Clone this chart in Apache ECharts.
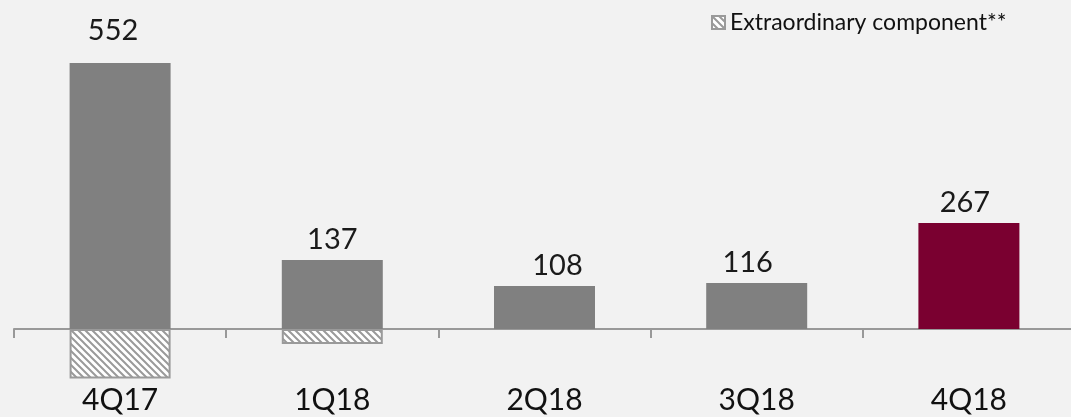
<!DOCTYPE html>
<html>
<head>
<meta charset="utf-8">
<script src="https://cdn.jsdelivr.net/npm/echarts@6/dist/echarts.min.js"></script>
<style>
html,body{margin:0;padding:0;background:#f2f2f2;}
#c{width:1071px;height:417px;}
</style>
</head>
<body>
<div id="c"></div>
<script>
// Data
const categories = ['4Q17', '1Q18', '2Q18', '3Q18', '4Q18'];
const reported = [552, 137, 108, 116, 267];          // printed labels
const barTotals = [670, 174, 108, 116, 267];          // height of the solid bar (incl. extraordinary)
const extraordinary = [125, 38, 0, 0, 0];             // hatched part below the axis
const legendName = 'Extraordinary component**';

// hatch pattern
function makeHatch() {
  const s = 7;
  const cv = document.createElement('canvas');
  cv.width = s; cv.height = s;
  const ctx = cv.getContext('2d');
  ctx.fillStyle = '#ffffff';
  ctx.fillRect(0, 0, s, s);
  ctx.strokeStyle = '#9a9a9a';
  ctx.lineWidth = 2;
  ctx.beginPath();
  ctx.moveTo(-2, -2); ctx.lineTo(s + 2, s + 2);
  ctx.moveTo(-2 - s, -2); ctx.lineTo(2, s + 2);
  ctx.moveTo(s - 2, -2); ctx.lineTo(2 * s + 2, s + 2);
  ctx.stroke();
  return cv;
}
const hatch = makeHatch();

const GRAY = '#808080';
const RED = '#7a0030';
const labelLift = [12, 0, 0, 0, 0];
const labelShift = [-7, 0, 13, -9, -4];

const chart = echarts.init(document.getElementById('c'));
chart.setOption({
  backgroundColor: '#f2f2f2',
  animation: false,
  textStyle: { fontFamily: 'Lato' },
  grid: { left: 14, right: -4, top: 51, bottom: 8.6, containLabel: false, outerBoundsMode: 'none' },
  legend: {
    data: [legendName],
    left: 706, top: 6,
    itemWidth: 13, itemHeight: 13, icon: 'rect',
    itemGap: 7,
    textStyle: { fontFamily: 'Lato', fontSize: 23, color: '#111' }
  },
  xAxis: {
    type: 'category',
    data: categories,
    axisLine: { onZero: true, lineStyle: { color: '#999999', width: 2 } },
    axisTick: { show: true, length: 9, lineStyle: { color: '#999999', width: 2 } },
    axisLabel: { margin: -23, fontSize: 30, color: '#111', fontFamily: 'Lato' }
  },
  yAxis: {
    type: 'value', min: -200, max: 700,
    show: false, splitLine: { show: false }
  },
  series: [
    {
      name: 'Result', type: 'bar', barWidth: 101, barGap: '-100%',
      data: barTotals.map((v, i) => ({
        value: v,
        itemStyle: { color: i === 4 ? RED : GRAY },
        label: { offset: [labelShift[i], -labelLift[i]] }
      })),
      label: {
        show: true, position: 'top', distance: 6,
        fontSize: 29, color: '#1a1a1a', fontFamily: 'Lato',
        formatter: p => String(reported[p.dataIndex])
      },
      z: 2
    },
    {
      name: legendName, type: 'bar', barWidth: 101, barGap: '-100%',
      data: extraordinary.map(v => (v ? -v : null)),
      itemStyle: { color: { image: hatch, repeat: 'repeat' }, borderColor: '#9a9a9a', borderWidth: 2 },
      z: 1
    }
  ]
});
</script>
</body>
</html>
